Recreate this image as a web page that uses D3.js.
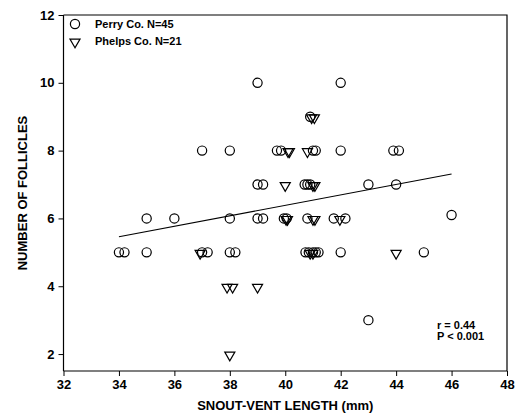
<!DOCTYPE html>
<html><head><meta charset="utf-8">
<script src="https://cdn.jsdelivr.net/npm/d3@7"></script>
<style>body{margin:0;background:#fff}svg{display:block}text{font-family:"Liberation Sans",Arial,sans-serif;font-weight:bold;fill:#000}</style>
</head><body>
<script>
// Perry Co. (circles)
const perryX = [39,42, 40.9, 37,38,39.7,39.85,41.0,41.1,42,43.9,44.1, 39,39.2,40.7,40.8,40.9,43,44,
  35,36,38,39,39.2,39.95,40.05,40.8,41.75,42.17,46, 34,34.2,35,37,37.2,38,38.2,40.73,40.85,41.0,41.1,41.2,42,45, 43];
const perryY = [10,10, 9, 8,8,8,8,8,8,8,8,8, 7,7,7,7,7,7,7,
  6,6,6,6,6,6,6,6,6,6,6.1, 5,5,5,5,5,5,5,5,5,5,5,5,5,5, 3];
// Phelps Co. (triangles)
const phelpsX = [40.95,41.05, 40.1,40.15,40.8, 40,41.0,41.07, 40.03,40.08,41.0,41.07,41.97, 36.93,40.9,41.0,44, 37.9,38.1,39, 38];
const phelpsY = [9,9, 8,8,8, 7,7,7, 6,6,6,6,6, 5,5,5,5, 4,4,4, 2];
const lineX = [34, 46];
const lineY = [5.46, 7.31];
const xTicks = [32,34,36,38,40,42,44,46,48];
const yTicks = [2,4,6,8,10,12];
const legendLabels = ["Perry Co. N=45", "Phelps Co. N=21"];
const statLabels = ["r = 0.44", "P < 0.001"];

const W=517,H=417;
const svg=d3.select("body").append("svg").attr("width",W).attr("height",H);
const L=63.5,R=507,T=15,B=371;
const x=d3.scaleLinear().domain([32,48]).range([L,R]);
const y=d3.scaleLinear().domain([1.5,12]).range([B,T]);

// frame
svg.append("path").attr("d",`M${L},${T}H${R}V${B}`).attr("fill","none").attr("stroke","#000").attr("stroke-width",1.2);

const xa=svg.append("g").attr("transform",`translate(0,${B})`)
  .call(d3.axisBottom(x).tickValues(xTicks).tickSize(5).tickPadding(4).tickFormat(d3.format("d")));
const ya=svg.append("g").attr("transform",`translate(${L},0)`)
  .call(d3.axisLeft(y).tickValues(yTicks).tickSize(5).tickPadding(4).tickFormat(d3.format("d")));
[xa,ya].forEach(a=>{a.select(".domain").attr("stroke-width",1.2);a.selectAll("line").attr("stroke-width",1);
  a.selectAll("text").style("font-size","13px").style("font-family","'Liberation Sans',Arial,sans-serif").style("font-weight","bold");});
xa.selectAll(".domain").attr("d",`M${L},0H${R}`);
ya.selectAll(".domain").attr("d",`M0,${B}V${T}`);

svg.append("text").attr("x",(L+R)/2).attr("y",410).attr("text-anchor","middle").style("font-size","13px").text("SNOUT-VENT LENGTH (mm)");
svg.append("text").attr("transform",`translate(27,${(T+B)/2}) rotate(-90)`).attr("text-anchor","middle").style("font-size","13px").text("NUMBER OF FOLLICLES");

// regression line
svg.append("line").attr("x1",x(lineX[0])).attr("y1",y(lineY[0])).attr("x2",x(lineX[1])).attr("y2",y(lineY[1]))
  .attr("stroke","#000").attr("stroke-width",1.1);

const tri=d3.symbol().type(d3.symbolTriangle).size(44);
function circ(g,cx,cy){g.append("circle").attr("cx",cx).attr("cy",cy).attr("r",4.6).attr("fill","none").attr("stroke","#000").attr("stroke-width",1.2);}
function trig(g,cx,cy){g.append("path").attr("d",tri).attr("transform",`translate(${cx},${cy+1}) rotate(180)`).attr("fill","none").attr("stroke","#000").attr("stroke-width",1.2);}

const pts=svg.append("g");
perryX.forEach((v,i)=>circ(pts,x(v),y(perryY[i])));
phelpsX.forEach((v,i)=>trig(pts,x(v),y(phelpsY[i])));

// legend
circ(svg,75,24); trig(svg,75,41);
legendLabels.forEach((t,i)=>svg.append("text").attr("x",95).attr("y",28+i*17).style("font-size","11px").text(t));
statLabels.forEach((t,i)=>svg.append("text").attr("x",437).attr("y",329+i*11).style("font-size","11px").text(t));
</script>
</body></html>
